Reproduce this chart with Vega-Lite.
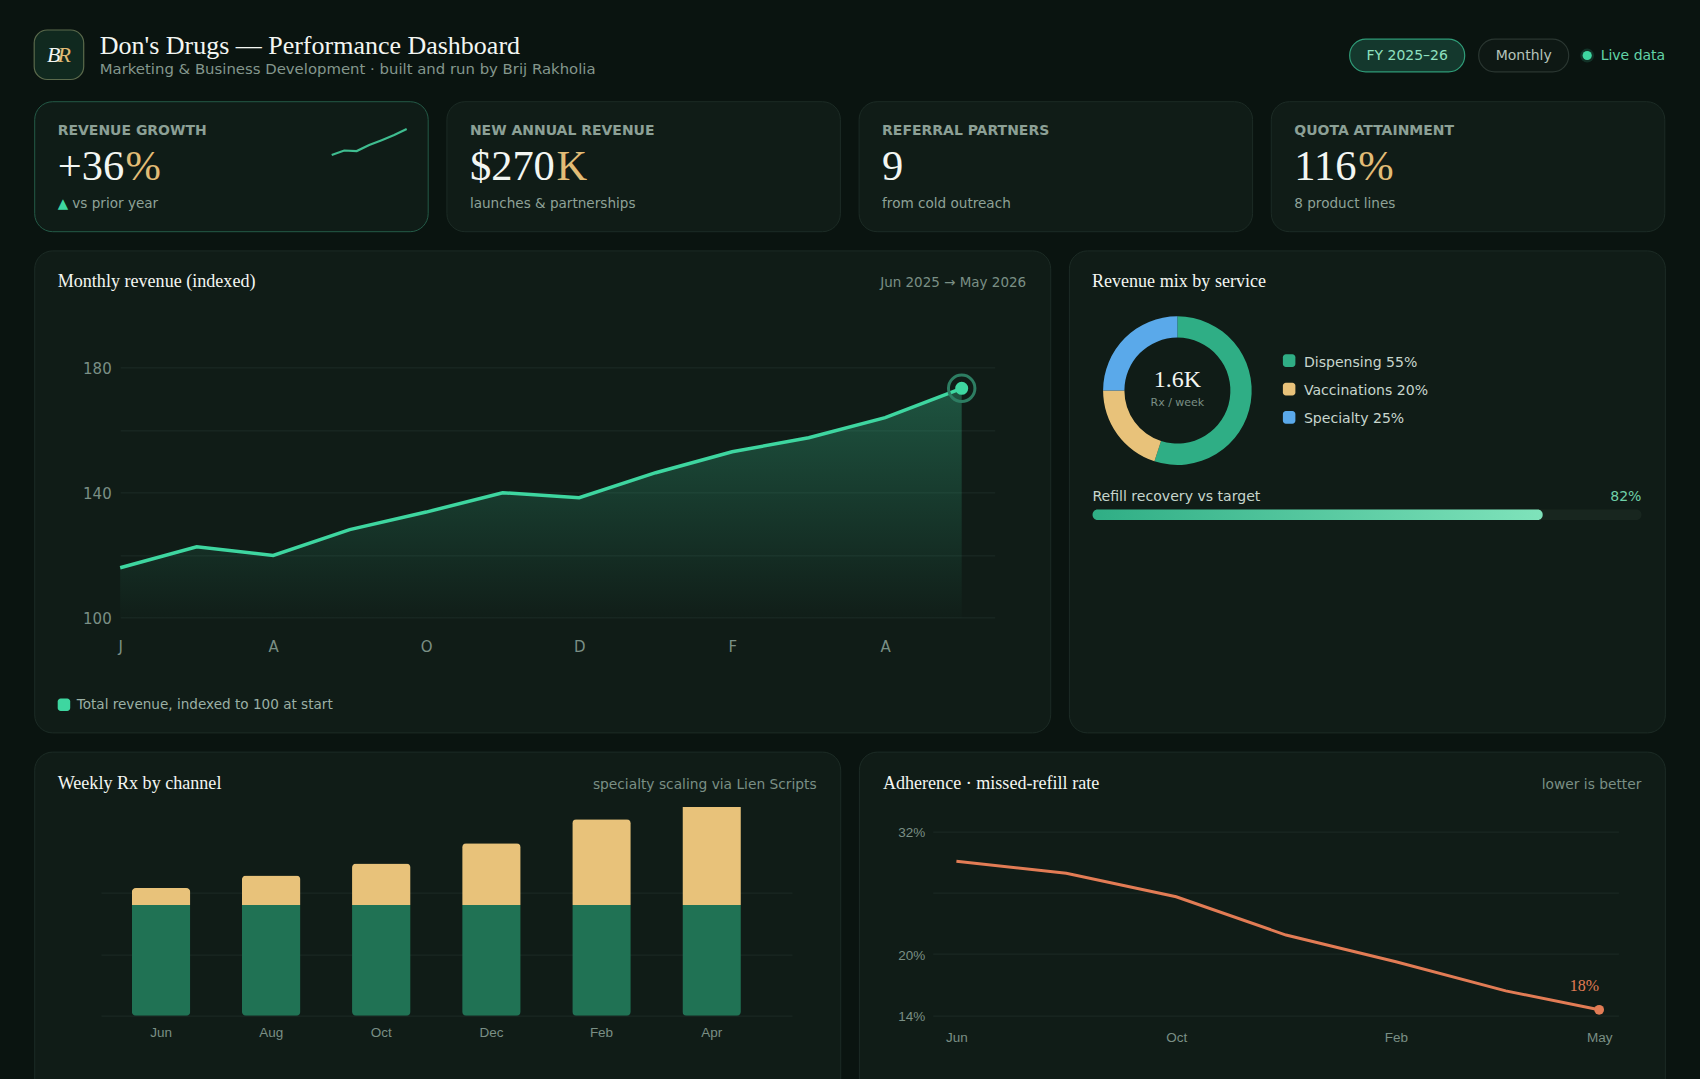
{
  "$schema": "https://vega.github.io/schema/vega-lite/v6.json",
  "description": "Don's Drugs performance dashboard",
  "background": "#0a1410",
  "padding": {"left": 33.2, "top": 29, "right": 34, "bottom": 0},
  "config": {
    "view": {"fill": "#101c17", "stroke": "#1c2b25", "strokeWidth": 1, "cornerRadius": 18},
    "scale": {"pointPadding": 0, "bandPaddingInner": 0, "bandPaddingOuter": 0},
    "axis": {"domain": false, "ticks": false, "grid": false, "title": null, "labelBound": false, "labelFlush": false, "labelOverlap": false, "labelAngle": 0, "gridColor": "#1d2b26", "gridWidth": 1, "labelColor": "#7a8f85"},
    "text": {"baseline": "middle", "align": "left"}
  },
  "spacing": 17.2,
  "resolve": {"scale": {"color": "independent"}},
  "vconcat": [
    {
      "width": 1630,
      "height": 53,
      "view": {"fill": null, "stroke": null},
      "resolve": {"scale": {"x": "independent", "y": "independent"}},
      "layer": [
        {
          "data": {"values": [{"item": "logo"}]},
          "mark": {"type": "rect", "fill": "#10291f", "stroke": "#5b6a4c", "strokeWidth": 1.2, "cornerRadius": 13},
          "encoding": {
            "x": {"field": "item", "type": "nominal", "axis": null, "scale": {"type": "band", "domain": ["logo"], "range": [0, 49.5]}},
            "y": {"field": "item", "type": "nominal", "axis": null, "scale": {"type": "band", "domain": ["logo"], "range": [0, 49.5]}}
          }
        },
        {
          "data": {"values": [{"letter": "B"}]},
          "mark": {"type": "text", "font": "Liberation Serif", "fontStyle": "italic", "fontSize": 22, "align": "center", "color": "#f3f6f2"},
          "encoding": {
            "x": {"field": "letter", "type": "nominal", "axis": null, "scale": {"type": "point", "domain": ["B", "R"], "range": [19.5, 30]}},
            "y": {"field": "letter", "type": "nominal", "axis": null, "scale": {"type": "point", "domain": ["B"], "range": [25, 25]}},
            "text": {"field": "letter"}
          }
        },
        {
          "data": {"values": [{"letter": "R"}]},
          "mark": {"type": "text", "font": "Liberation Serif", "fontStyle": "italic", "fontSize": 22, "align": "center", "color": "#e2bc76"},
          "encoding": {
            "x": {"field": "letter", "type": "nominal", "axis": null, "scale": {"type": "point", "domain": ["B", "R"], "range": [19.5, 30]}},
            "y": {"field": "letter", "type": "nominal", "axis": null, "scale": {"type": "point", "domain": ["R"], "range": [25, 25]}},
            "text": {"field": "letter"}
          }
        },
        {
          "data": {"values": [{"slot": "title", "text": "Don's Drugs — Performance Dashboard"}]},
          "mark": {"type": "text", "font": "Liberation Serif", "fontSize": 26, "color": "#f3f6f2"},
          "encoding": {
            "x": {"field": "slot", "type": "nominal", "axis": null, "scale": {"type": "point", "domain": ["title"], "range": [65.5, 65.5]}},
            "y": {"field": "slot", "type": "nominal", "axis": null, "scale": {"type": "point", "domain": ["title"], "range": [15.5, 15.5]}},
            "text": {"field": "text"}
          }
        },
        {
          "data": {"values": [{"slot": "subtitle", "text": "Marketing & Business Development · built and run by Brij Rakholia"}]},
          "mark": {"type": "text", "font": "DejaVu Sans", "fontSize": 14.9, "color": "#84978d"},
          "encoding": {
            "x": {"field": "slot", "type": "nominal", "axis": null, "scale": {"type": "point", "domain": ["subtitle"], "range": [65.5, 65.5]}},
            "y": {"field": "slot", "type": "nominal", "axis": null, "scale": {"type": "point", "domain": ["subtitle"], "range": [39.5, 39.5]}},
            "text": {"field": "text"}
          }
        },
        {
          "data": {"values": [{"pill": "FY 2025–26"}]},
          "mark": {"type": "rect", "fill": "#14382d", "stroke": "#2f9c78", "strokeWidth": 1.2, "cornerRadius": 16},
          "encoding": {
            "x": {"field": "pill", "type": "nominal", "axis": null, "scale": {"type": "band", "domain": ["FY 2025–26"], "range": [1315.5, 1430.5]}},
            "y": {"field": "pill", "type": "nominal", "axis": null, "scale": {"type": "band", "domain": ["FY 2025–26"], "range": [9.2, 41.8]}}
          }
        },
        {
          "data": {"values": [{"pill": "FY 2025–26"}]},
          "mark": {"type": "text", "font": "DejaVu Sans", "fontSize": 14, "align": "center", "color": "#8fe0c0"},
          "encoding": {
            "x": {"field": "pill", "type": "nominal", "axis": null, "scale": {"type": "band", "domain": ["FY 2025–26"], "range": [1315.5, 1430.5]}},
            "y": {"field": "pill", "type": "nominal", "axis": null, "scale": {"type": "band", "domain": ["FY 2025–26"], "range": [9.2, 41.8]}},
            "text": {"field": "pill"}
          }
        },
        {
          "data": {"values": [{"pill": "Monthly"}]},
          "mark": {"type": "rect", "fill": "#0e1814", "stroke": "#2a3631", "strokeWidth": 1.2, "cornerRadius": 16},
          "encoding": {
            "x": {"field": "pill", "type": "nominal", "axis": null, "scale": {"type": "band", "domain": ["Monthly"], "range": [1444.5, 1534.5]}},
            "y": {"field": "pill", "type": "nominal", "axis": null, "scale": {"type": "band", "domain": ["Monthly"], "range": [9.2, 41.8]}}
          }
        },
        {
          "data": {"values": [{"pill": "Monthly"}]},
          "mark": {"type": "text", "font": "DejaVu Sans", "fontSize": 14, "align": "center", "color": "#b5c4bb"},
          "encoding": {
            "x": {"field": "pill", "type": "nominal", "axis": null, "scale": {"type": "band", "domain": ["Monthly"], "range": [1444.5, 1534.5]}},
            "y": {"field": "pill", "type": "nominal", "axis": null, "scale": {"type": "band", "domain": ["Monthly"], "range": [9.2, 41.8]}},
            "text": {"field": "pill"}
          }
        },
        {
          "data": {"values": [{"slot": "status"}]},
          "mark": {"type": "circle", "color": "#3ed6a0", "size": 190, "opacity": 0.16},
          "encoding": {
            "x": {"field": "slot", "type": "nominal", "axis": null, "scale": {"type": "point", "domain": ["status"], "range": [1553, 1553]}},
            "y": {"field": "slot", "type": "nominal", "axis": null, "scale": {"type": "point", "domain": ["status"], "range": [25.5, 25.5]}}
          }
        },
        {
          "data": {"values": [{"slot": "status"}]},
          "mark": {"type": "circle", "color": "#3ed6a0", "size": 85, "opacity": 1},
          "encoding": {
            "x": {"field": "slot", "type": "nominal", "axis": null, "scale": {"type": "point", "domain": ["status"], "range": [1553, 1553]}},
            "y": {"field": "slot", "type": "nominal", "axis": null, "scale": {"type": "point", "domain": ["status"], "range": [25.5, 25.5]}}
          }
        },
        {
          "data": {"values": [{"slot": "status", "text": "Live data"}]},
          "mark": {"type": "text", "font": "DejaVu Sans", "fontSize": 14, "align": "right", "color": "#62d3a7"},
          "encoding": {
            "x": {"field": "slot", "type": "nominal", "axis": null, "scale": {"type": "point", "domain": ["status"], "range": [1631, 1631]}},
            "y": {"field": "slot", "type": "nominal", "axis": null, "scale": {"type": "point", "domain": ["status"], "range": [25.5, 25.5]}},
            "text": {"field": "text"}
          }
        }
      ]
    },
    {
      "spacing": 17.2,
      "hconcat": [
        {
          "width": 393.5,
          "height": 130,
          "view": {"stroke": "#245a47", "fill": "#0f1c17"},
          "resolve": {"scale": {"x": "independent", "y": "independent"}},
          "layer": [
            {
              "data": {"values": [{"part": "label", "text": "REVENUE GROWTH"}]},
              "mark": {"type": "text", "font": "DejaVu Sans", "fontWeight": "bold", "fontSize": 14, "color": "#8ca096"},
              "encoding": {
                "x": {"field": "part", "type": "nominal", "axis": null, "scale": {"type": "point", "domain": ["label"], "range": [23.5, 23.5]}},
                "y": {"field": "part", "type": "nominal", "axis": null, "scale": {"type": "point", "domain": ["label", "value", "sub"], "range": [30, 102.5]}},
                "text": {"field": "text"}
              }
            },
            {
              "data": {"values": [{"part": "value", "col": "main", "text": "+36"}]},
              "mark": {"type": "text", "font": "Liberation Serif", "fontSize": 42.5, "color": "#f3f6f2"},
              "encoding": {
                "x": {"field": "col", "type": "nominal", "axis": null, "scale": {"type": "point", "domain": ["main", "unit"], "range": [23.5, 91.2]}},
                "y": {"field": "part", "type": "nominal", "axis": null, "scale": {"type": "point", "domain": ["label", "value", "sub"], "range": [30, 102.5]}},
                "text": {"field": "text"}
              }
            },
            {
              "data": {"values": [{"part": "value", "col": "unit", "text": "%"}]},
              "mark": {"type": "text", "font": "Liberation Serif", "fontSize": 42.5, "color": "#e2bc76"},
              "encoding": {
                "x": {"field": "col", "type": "nominal", "axis": null, "scale": {"type": "point", "domain": ["main", "unit"], "range": [23.5, 91.2]}},
                "y": {"field": "part", "type": "nominal", "axis": null, "scale": {"type": "point", "domain": ["label", "value", "sub"], "range": [30, 102.5]}},
                "text": {"field": "text"}
              }
            },
            {
              "data": {"values": [{"part": "sub", "col": "mark", "text": "▲"}]},
              "mark": {"type": "text", "font": "DejaVu Sans", "fontSize": 13.6, "color": "#3ed6a0"},
              "encoding": {
                "x": {"field": "col", "type": "nominal", "axis": null, "scale": {"type": "point", "domain": ["mark", "note"], "range": [23.5, 38.1]}},
                "y": {"field": "part", "type": "nominal", "axis": null, "scale": {"type": "point", "domain": ["label", "value", "sub"], "range": [30, 102.5]}},
                "text": {"field": "text"}
              }
            },
            {
              "data": {"values": [{"part": "sub", "col": "note", "text": "vs prior year"}]},
              "mark": {"type": "text", "font": "DejaVu Sans", "fontSize": 13.6, "color": "#8ea298"},
              "encoding": {
                "x": {"field": "col", "type": "nominal", "axis": null, "scale": {"type": "point", "domain": ["mark", "note"], "range": [23.5, 38.1]}},
                "y": {"field": "part", "type": "nominal", "axis": null, "scale": {"type": "point", "domain": ["label", "value", "sub"], "range": [30, 102.5]}},
                "text": {"field": "text"}
              }
            },
            {
              "data": {"values": [
                {"step": 1, "growth": 16.75},
                {"step": 2, "growth": 28},
                {"step": 3, "growth": 26.5},
                {"step": 4, "growth": 41.75},
                {"step": 5, "growth": 53.75},
                {"step": 6, "growth": 66.5},
                {"step": 7, "growth": 81.75}
              ]},
              "mark": {"type": "line", "color": "#3fbd90", "strokeWidth": 2.2},
              "encoding": {
                "x": {"field": "step", "type": "quantitative", "axis": null, "scale": {"domain": [1, 7], "range": [297.5, 372.5]}},
                "y": {"field": "growth", "type": "quantitative", "axis": null, "scale": {"domain": [0, 100], "range": [60.5, 20.5]}}
              }
            }
          ]
        },
        {
          "width": 393.5,
          "height": 130,
          "data": {"values": [
            {"part": "label", "col": "main", "text": "NEW ANNUAL REVENUE"},
            {"part": "value", "col": "main", "text": "$270"},
            {"part": "value", "col": "unit", "text": "K"},
            {"part": "sub", "col": "main", "text": "launches & partnerships"}
          ]},
          "encoding": {
            "x": {"field": "col", "type": "nominal", "axis": null, "scale": {"type": "point", "domain": ["main", "unit"], "range": [23.5, 110.2]}},
            "y": {"field": "part", "type": "nominal", "axis": null, "scale": {"type": "point", "domain": ["label", "value", "sub"], "range": [30, 102.5]}},
            "text": {"field": "text"}
          },
          "layer": [
            {"transform": [{"filter": "datum.part == 'label'"}], "mark": {"type": "text", "font": "DejaVu Sans", "fontWeight": "bold", "fontSize": 14, "color": "#8ca096"}},
            {"transform": [{"filter": "datum.part == 'value' && datum.col == 'main'"}], "mark": {"type": "text", "font": "Liberation Serif", "fontSize": 42.5, "color": "#f3f6f2"}},
            {"transform": [{"filter": "datum.col == 'unit'"}], "mark": {"type": "text", "font": "Liberation Serif", "fontSize": 42.5, "color": "#e2bc76"}},
            {"transform": [{"filter": "datum.part == 'sub'"}], "mark": {"type": "text", "font": "DejaVu Sans", "fontSize": 13.6, "color": "#8ea298"}}
          ]
        },
        {
          "width": 393.5,
          "height": 130,
          "data": {"values": [
            {"part": "label", "col": "main", "text": "REFERRAL PARTNERS"},
            {"part": "value", "col": "main", "text": "9"},
            {"part": "sub", "col": "main", "text": "from cold outreach"}
          ]},
          "encoding": {
            "x": {"field": "col", "type": "nominal", "axis": null, "scale": {"type": "point", "domain": ["main"], "range": [23.5, 23.5]}},
            "y": {"field": "part", "type": "nominal", "axis": null, "scale": {"type": "point", "domain": ["label", "value", "sub"], "range": [30, 102.5]}},
            "text": {"field": "text"}
          },
          "layer": [
            {"transform": [{"filter": "datum.part == 'label'"}], "mark": {"type": "text", "font": "DejaVu Sans", "fontWeight": "bold", "fontSize": 14, "color": "#8ca096"}},
            {"transform": [{"filter": "datum.part == 'value'"}], "mark": {"type": "text", "font": "Liberation Serif", "fontSize": 42.5, "color": "#f3f6f2"}},
            {"transform": [{"filter": "datum.part == 'sub'"}], "mark": {"type": "text", "font": "DejaVu Sans", "fontSize": 13.6, "color": "#8ea298"}}
          ]
        },
        {
          "width": 393.5,
          "height": 130,
          "data": {"values": [
            {"part": "label", "col": "main", "text": "QUOTA ATTAINMENT"},
            {"part": "value", "col": "main", "text": "116"},
            {"part": "value", "col": "unit", "text": "%"},
            {"part": "sub", "col": "main", "text": "8 product lines"}
          ]},
          "encoding": {
            "x": {"field": "col", "type": "nominal", "axis": null, "scale": {"type": "point", "domain": ["main", "unit"], "range": [23.5, 87.5]}},
            "y": {"field": "part", "type": "nominal", "axis": null, "scale": {"type": "point", "domain": ["label", "value", "sub"], "range": [30, 102.5]}},
            "text": {"field": "text"}
          },
          "layer": [
            {"transform": [{"filter": "datum.part == 'label'"}], "mark": {"type": "text", "font": "DejaVu Sans", "fontWeight": "bold", "fontSize": 14, "color": "#8ca096"}},
            {"transform": [{"filter": "datum.part == 'value' && datum.col == 'main'"}], "mark": {"type": "text", "font": "Liberation Serif", "fontSize": 42.5, "color": "#f3f6f2"}},
            {"transform": [{"filter": "datum.col == 'unit'"}], "mark": {"type": "text", "font": "Liberation Serif", "fontSize": 42.5, "color": "#e2bc76"}},
            {"transform": [{"filter": "datum.part == 'sub'"}], "mark": {"type": "text", "font": "DejaVu Sans", "fontSize": 13.6, "color": "#8ea298"}}
          ]
        }
      ]
    },
    {
      "spacing": 16.7,
      "resolve": {"scale": {"color": "independent"}},
      "hconcat": [
        {
          "width": 1016,
          "height": 482,
          "resolve": {"scale": {"x": "independent", "y": "independent"}},
          "data": {"values": [
            {"month": "Jun", "index": 116},
            {"month": "Jul", "index": 122.7},
            {"month": "Aug", "index": 119.9},
            {"month": "Sep", "index": 128.2},
            {"month": "Oct", "index": 133.8},
            {"month": "Nov", "index": 140},
            {"month": "Dec", "index": 138.4},
            {"month": "Jan", "index": 146.4},
            {"month": "Feb", "index": 153.1},
            {"month": "Mar", "index": 157.6},
            {"month": "Apr", "index": 164},
            {"month": "May", "index": 173.4}
          ]},
          "encoding": {
            "x": {"field": "month", "type": "nominal", "axis": null, "scale": {"type": "point", "domain": ["Jun", "Jul", "Aug", "Sep", "Oct", "Nov", "Dec", "Jan", "Feb", "Mar", "Apr", "May"], "range": [86, 960.5], "padding": 0.2157, "align": 0}},
            "y": {"field": "index", "type": "quantitative", "axis": null, "scale": {"domain": [100, 180], "range": [367.3, 117.3]}}
          },
          "layer": [
            {
              "mark": {"type": "area", "color": {"gradient": "linear", "x1": 0, "y1": 0, "x2": 0, "y2": 1, "stops": [{"offset": 0, "color": "rgba(62,214,160,0.30)"}, {"offset": 1, "color": "rgba(62,214,160,0.01)"}]}},
              "encoding": {
                "x": {"field": "month", "type": "nominal", "title": null, "sort": null, "axis": {"values": ["Jun", "Aug", "Oct", "Dec", "Feb", "Apr"], "labelExpr": "substring(datum.value, 0, 1)", "labelFont": "DejaVu Sans", "labelFontSize": 15, "labelBaseline": "middle", "labelPadding": -86}, "scale": {"type": "point", "domain": ["Jun", "Jul", "Aug", "Sep", "Oct", "Nov", "Dec", "Jan", "Feb", "Mar", "Apr", "May"], "range": [86, 960.5], "padding": 0.2157, "align": 0}},
                "y": {"field": "index", "type": "quantitative", "title": null, "axis": {"values": [100, 120, 140, 160, 180], "grid": true, "labelExpr": "datum.value == 120 || datum.value == 160 ? '' : datum.label", "labelFont": "DejaVu Sans", "labelFontSize": 15, "labelPadding": -77, "labelOffset": 1}, "scale": {"domain": [100, 180], "range": [367.3, 117.3]}},
                "y2": {"datum": 100}
              }
            },
            {"mark": {"type": "line", "color": "#3ed6a0", "strokeWidth": 3.5}},
            {
              "transform": [{"filter": "datum.month == 'May'"}],
              "mark": {"type": "point", "filled": false, "stroke": "#2d7d62", "strokeWidth": 3, "size": 700, "opacity": 1}
            },
            {
              "transform": [{"filter": "datum.month == 'May'"}],
              "mark": {"type": "circle", "color": "#3ed6a0", "size": 170, "opacity": 1}
            },
            {
              "data": {"values": [{"slot": "title", "text": "Monthly revenue (indexed)"}]},
              "mark": {"type": "text", "font": "Liberation Serif", "fontSize": 18.1, "color": "#f3f6f2"},
              "encoding": {
                "x": {"field": "slot", "type": "nominal", "axis": null, "scale": {"type": "point", "domain": ["title"], "range": [23.5, 23.5]}},
                "y": {"field": "slot", "type": "nominal", "axis": null, "scale": {"type": "point", "domain": ["title"], "range": [31.5, 31.5]}},
                "text": {"field": "text"}
              }
            },
            {
              "data": {"values": [{"slot": "note", "text": "Jun 2025 → May 2026"}]},
              "mark": {"type": "text", "font": "DejaVu Sans", "fontSize": 13.5, "align": "right", "color": "#7a8f85"},
              "encoding": {
                "x": {"field": "slot", "type": "nominal", "axis": null, "scale": {"type": "point", "domain": ["note"], "range": [992, 992]}},
                "y": {"field": "slot", "type": "nominal", "axis": null, "scale": {"type": "point", "domain": ["note"], "range": [32.5, 32.5]}},
                "text": {"field": "text"}
              }
            },
            {
              "data": {"values": [{"slot": "legend"}]},
              "mark": {"type": "rect", "fill": "#3ed6a0", "cornerRadius": 3},
              "encoding": {
                "x": {"field": "slot", "type": "nominal", "axis": null, "scale": {"type": "band", "domain": ["legend"], "range": [23.5, 36]}},
                "y": {"field": "slot", "type": "nominal", "axis": null, "scale": {"type": "band", "domain": ["legend"], "range": [448, 460.5]}}
              }
            },
            {
              "data": {"values": [{"slot": "legend", "text": "Total revenue, indexed to 100 at start"}]},
              "mark": {"type": "text", "font": "DejaVu Sans", "fontSize": 13.6, "color": "#9bb0a5"},
              "encoding": {
                "x": {"field": "slot", "type": "nominal", "axis": null, "scale": {"type": "point", "domain": ["legend"], "range": [42.5, 42.5]}},
                "y": {"field": "slot", "type": "nominal", "axis": null, "scale": {"type": "point", "domain": ["legend"], "range": [455, 455]}},
                "text": {"field": "text"}
              }
            }
          ]
        },
        {
          "width": 596,
          "height": 482,
          "resolve": {"scale": {"x": "independent", "y": "independent"}},
          "layer": [
            {
              "data": {"values": [{"slot": "title", "text": "Revenue mix by service"}]},
              "mark": {"type": "text", "font": "Liberation Serif", "fontSize": 18.1, "color": "#f3f6f2"},
              "encoding": {
                "x": {"field": "slot", "type": "nominal", "axis": null, "scale": {"type": "point", "domain": ["title"], "range": [23, 23]}},
                "y": {"field": "slot", "type": "nominal", "axis": null, "scale": {"type": "point", "domain": ["title"], "range": [31.5, 31.5]}},
                "text": {"field": "text"}
              }
            },
            {
              "data": {"values": [
                {"chart": "mix", "service": "Dispensing", "share": 55, "rank": 1},
                {"chart": "mix", "service": "Vaccinations", "share": 20, "rank": 2},
                {"chart": "mix", "service": "Specialty", "share": 25, "rank": 3}
              ]},
              "mark": {"type": "arc", "outerRadius": 74.3, "innerRadius": 53},
              "encoding": {
                "x": {"field": "chart", "type": "nominal", "axis": null, "scale": {"type": "point", "domain": ["mix"], "range": [108.5, 108.5]}},
                "y": {"field": "chart", "type": "nominal", "axis": null, "scale": {"type": "point", "domain": ["mix"], "range": [140.2, 140.2]}},
                "theta": {"field": "share", "type": "quantitative"},
                "order": {"field": "rank"},
                "color": {"field": "service", "type": "nominal", "legend": null, "scale": {"domain": ["Dispensing", "Vaccinations", "Specialty"], "range": ["#2fae85", "#e8c27a", "#5aa9ea"]}}
              }
            },
            {
              "data": {"values": [{"slot": "value", "text": "1.6K"}]},
              "mark": {"type": "text", "font": "Liberation Serif", "fontSize": 24, "align": "center", "color": "#f3f6f2"},
              "encoding": {
                "x": {"field": "slot", "type": "nominal", "axis": null, "scale": {"type": "point", "domain": ["value"], "range": [108.5, 108.5]}},
                "y": {"field": "slot", "type": "nominal", "axis": null, "scale": {"type": "point", "domain": ["value"], "range": [129.5, 129.5]}},
                "text": {"field": "text"}
              }
            },
            {
              "data": {"values": [{"slot": "caption", "text": "Rx / week"}]},
              "mark": {"type": "text", "font": "DejaVu Sans", "fontSize": 11, "align": "center", "color": "#7a8f85"},
              "encoding": {
                "x": {"field": "slot", "type": "nominal", "axis": null, "scale": {"type": "point", "domain": ["caption"], "range": [108.5, 108.5]}},
                "y": {"field": "slot", "type": "nominal", "axis": null, "scale": {"type": "point", "domain": ["caption"], "range": [152.5, 152.5]}},
                "text": {"field": "text"}
              }
            },
            {
              "data": {"values": [
                {"slot": "swatch", "service": "Dispensing"},
                {"slot": "swatch", "service": "Vaccinations"},
                {"slot": "swatch", "service": "Specialty"}
              ]},
              "mark": {"type": "rect", "cornerRadius": 3},
              "encoding": {
                "x": {"field": "slot", "type": "nominal", "axis": null, "scale": {"type": "band", "domain": ["swatch"], "range": [214, 226.5]}},
                "y": {"field": "service", "type": "nominal", "axis": null, "scale": {"type": "band", "domain": ["Dispensing", "Vaccinations", "Specialty"], "range": [96.1, 181.2], "paddingInner": 0.552, "paddingOuter": 0.276}},
                "color": {"field": "service", "type": "nominal", "legend": null, "scale": {"domain": ["Dispensing", "Vaccinations", "Specialty"], "range": ["#2fae85", "#e8c27a", "#5aa9ea"]}}
              }
            },
            {
              "data": {"values": [
                {"slot": "entry", "service": "Dispensing", "label": "Dispensing 55%"},
                {"slot": "entry", "service": "Vaccinations", "label": "Vaccinations 20%"},
                {"slot": "entry", "service": "Specialty", "label": "Specialty 25%"}
              ]},
              "mark": {"type": "text", "font": "DejaVu Sans", "fontSize": 14.1, "color": "#c7d6cd"},
              "encoding": {
                "x": {"field": "slot", "type": "nominal", "axis": null, "scale": {"type": "point", "domain": ["entry"], "range": [235, 235]}},
                "y": {"field": "service", "type": "nominal", "axis": null, "scale": {"type": "band", "domain": ["Dispensing", "Vaccinations", "Specialty"], "range": [98, 183.1], "paddingInner": 0.552, "paddingOuter": 0.276}},
                "text": {"field": "label"}
              }
            },
            {
              "data": {"values": [{"slot": "label", "text": "Refill recovery vs target"}]},
              "mark": {"type": "text", "font": "DejaVu Sans", "fontSize": 14.1, "color": "#c7d6cd"},
              "encoding": {
                "x": {"field": "slot", "type": "nominal", "axis": null, "scale": {"type": "point", "domain": ["label"], "range": [23.5, 23.5]}},
                "y": {"field": "slot", "type": "nominal", "axis": null, "scale": {"type": "point", "domain": ["label"], "range": [246.5, 246.5]}},
                "text": {"field": "text"}
              }
            },
            {
              "data": {"values": [{"slot": "value", "text": "82%"}]},
              "mark": {"type": "text", "font": "DejaVu Sans", "fontSize": 14.1, "align": "right", "color": "#6fd0a8"},
              "encoding": {
                "x": {"field": "slot", "type": "nominal", "axis": null, "scale": {"type": "point", "domain": ["value"], "range": [572.6, 572.6]}},
                "y": {"field": "slot", "type": "nominal", "axis": null, "scale": {"type": "point", "domain": ["value"], "range": [246.5, 246.5]}},
                "text": {"field": "text"}
              }
            },
            {
              "data": {"values": [{"row": "refill", "share": 100}]},
              "mark": {"type": "bar", "color": "#18261f", "cornerRadius": 5},
              "encoding": {
                "x": {"field": "share", "type": "quantitative", "stack": null, "axis": null, "scale": {"domain": [0, 100], "range": [23.7, 572.6]}},
                "y": {"field": "row", "type": "nominal", "axis": null, "scale": {"type": "band", "domain": ["refill"], "range": [259, 269.7]}}
              }
            },
            {
              "data": {"values": [{"row": "refill", "share": 82}]},
              "mark": {"type": "bar", "cornerRadius": 5, "color": {"gradient": "linear", "x1": 0, "y1": 0, "x2": 1, "y2": 0, "stops": [{"offset": 0, "color": "#2fae85"}, {"offset": 1, "color": "#7fe3bb"}]}},
              "encoding": {
                "x": {"field": "share", "type": "quantitative", "stack": null, "axis": null, "scale": {"domain": [0, 100], "range": [23.7, 572.6]}},
                "y": {"field": "row", "type": "nominal", "axis": null, "scale": {"type": "band", "domain": ["refill"], "range": [259, 269.7]}}
              }
            }
          ]
        }
      ]
    },
    {
      "spacing": 16.7,
      "resolve": {"scale": {"color": "independent"}},
      "hconcat": [
        {
          "width": 806,
          "height": 345,
          "resolve": {"scale": {"x": "independent", "y": "independent"}},
          "layer": [
            {
              "data": {"values": [{"slot": "title", "text": "Weekly Rx by channel"}]},
              "mark": {"type": "text", "font": "Liberation Serif", "fontSize": 18.1, "color": "#f3f6f2"},
              "encoding": {
                "x": {"field": "slot", "type": "nominal", "axis": null, "scale": {"type": "point", "domain": ["title"], "range": [23.5, 23.5]}},
                "y": {"field": "slot", "type": "nominal", "axis": null, "scale": {"type": "point", "domain": ["title"], "range": [32, 32]}},
                "text": {"field": "text"}
              }
            },
            {
              "data": {"values": [{"slot": "note", "text": "specialty scaling via Lien Scripts"}]},
              "mark": {"type": "text", "font": "DejaVu Sans", "fontSize": 13.8, "align": "right", "color": "#7a8f85"},
              "encoding": {
                "x": {"field": "slot", "type": "nominal", "axis": null, "scale": {"type": "point", "domain": ["note"], "range": [782.5, 782.5]}},
                "y": {"field": "slot", "type": "nominal", "axis": null, "scale": {"type": "point", "domain": ["note"], "range": [33, 33]}},
                "text": {"field": "text"}
              }
            },
            {
              "data": {"values": [
                {"month": "Jun", "channel": "Retail", "scripts": 718, "rank": 1},
                {"month": "Jun", "channel": "Specialty", "scripts": 110, "rank": 2},
                {"month": "Aug", "channel": "Retail", "scripts": 718, "rank": 1},
                {"month": "Aug", "channel": "Specialty", "scripts": 192, "rank": 2},
                {"month": "Oct", "channel": "Retail", "scripts": 718, "rank": 1},
                {"month": "Oct", "channel": "Specialty", "scripts": 270, "rank": 2},
                {"month": "Dec", "channel": "Retail", "scripts": 718, "rank": 1},
                {"month": "Dec", "channel": "Specialty", "scripts": 400, "rank": 2},
                {"month": "Feb", "channel": "Retail", "scripts": 718, "rank": 1},
                {"month": "Feb", "channel": "Specialty", "scripts": 557, "rank": 2}
              ]},
              "mark": {"type": "bar", "cornerRadius": 4},
              "encoding": {
                "x": {"field": "month", "type": "nominal", "title": null, "axis": {"labelFont": "Liberation Sans", "labelFontSize": 13.5, "labelBaseline": "middle", "labelPadding": -64}, "scale": {"type": "band", "domain": ["Jun", "Aug", "Oct", "Dec", "Feb", "Apr"], "range": [66.8, 757.8], "paddingInner": 0.4687, "paddingOuter": 0.372, "align": 0.376}},
                "y": {"field": "scripts", "type": "quantitative", "title": null, "axis": {"values": [0, 400, 800], "grid": true, "labels": false}, "scale": {"domain": [0, 1353], "range": [264.2, 55.5], "clamp": true}},
                "order": {"field": "rank"},
                "color": {"field": "channel", "type": "nominal", "legend": null, "scale": {"domain": ["Retail", "Specialty"], "range": ["#207254", "#e8c27a"]}}
              }
            },
            {
              "data": {"values": [
                {"month": "Apr", "channel": "Retail", "scripts": 718, "rank": 1},
                {"month": "Apr", "channel": "Specialty", "scripts": 732, "rank": 2}
              ]},
              "mark": {"type": "bar", "cornerRadiusBottomLeft": 4, "cornerRadiusBottomRight": 4},
              "encoding": {
                "x": {"field": "month", "type": "nominal", "axis": null, "scale": {"type": "band", "domain": ["Jun", "Aug", "Oct", "Dec", "Feb", "Apr"], "range": [66.8, 757.8], "paddingInner": 0.4687, "paddingOuter": 0.372, "align": 0.376}},
                "y": {"field": "scripts", "type": "quantitative", "axis": null, "scale": {"domain": [0, 1353], "range": [264.2, 55.5], "clamp": true}},
                "order": {"field": "rank"},
                "color": {"field": "channel", "type": "nominal", "legend": null, "scale": {"domain": ["Retail", "Specialty"], "range": ["#207254", "#e8c27a"]}}
              }
            }
          ]
        },
        {
          "width": 806,
          "height": 345,
          "resolve": {"scale": {"x": "independent", "y": "independent"}},
          "data": {"values": [
            {"month": "Jun", "step": 0, "missed": 29.07},
            {"month": "Aug", "step": 2, "missed": 27.9},
            {"month": "Oct", "step": 4, "missed": 25.6},
            {"month": "Dec", "step": 6, "missed": 21.86},
            {"month": "Feb", "step": 8, "missed": 19.25},
            {"month": "Apr", "step": 10, "missed": 16.4},
            {"month": "May", "step": 11.7, "missed": 14.55, "label": "18%"}
          ]},
          "encoding": {
            "x": {"field": "step", "type": "quantitative", "axis": null, "scale": {"domain": [-0.43, 12.05], "range": [73.9, 759.5]}},
            "y": {"field": "missed", "type": "quantitative", "axis": null, "scale": {"domain": [14, 32], "range": [263.8, 79.8]}}
          },
          "layer": [
            {
              "mark": {"type": "line", "color": "#e27c55", "strokeWidth": 3},
              "encoding": {
                "x": {"field": "step", "type": "quantitative", "title": null, "axis": {"values": [0, 4, 8, 11.7], "labelExpr": "datum.value == 0 ? 'Jun' : datum.value == 4 ? 'Oct' : datum.value == 8 ? 'Feb' : 'May'", "labelFont": "Liberation Sans", "labelFontSize": 13.5, "labelBaseline": "middle", "labelPadding": -59}, "scale": {"domain": [-0.43, 12.05], "range": [73.9, 759.5]}},
                "y": {"field": "missed", "type": "quantitative", "title": null, "axis": {"values": [14, 20, 26, 32], "grid": true, "labelExpr": "datum.value == 26 ? '' : datum.value + '%'", "labelFont": "Liberation Sans", "labelFontSize": 13.5, "labelPadding": -65.8, "labelOffset": 1}, "scale": {"domain": [14, 32], "range": [263.8, 79.8]}}
              }
            },
            {
              "transform": [{"filter": "datum.month == 'May'"}],
              "mark": {"type": "circle", "color": "#e27c55", "size": 95, "opacity": 1}
            },
            {
              "transform": [{"filter": "datum.month == 'May'"}],
              "mark": {"type": "text", "font": "Liberation Serif", "fontSize": 16, "align": "right", "dy": -24, "color": "#e27c55"},
              "encoding": {"text": {"field": "label"}}
            },
            {
              "data": {"values": [{"slot": "title", "text": "Adherence · missed-refill rate"}]},
              "mark": {"type": "text", "font": "Liberation Serif", "fontSize": 18.1, "color": "#f3f6f2"},
              "encoding": {
                "x": {"field": "slot", "type": "nominal", "axis": null, "scale": {"type": "point", "domain": ["title"], "range": [24, 24]}},
                "y": {"field": "slot", "type": "nominal", "axis": null, "scale": {"type": "point", "domain": ["title"], "range": [32, 32]}},
                "text": {"field": "text"}
              }
            },
            {
              "data": {"values": [{"slot": "note", "text": "lower is better"}]},
              "mark": {"type": "text", "font": "DejaVu Sans", "fontSize": 13.8, "align": "right", "color": "#7a8f85"},
              "encoding": {
                "x": {"field": "slot", "type": "nominal", "axis": null, "scale": {"type": "point", "domain": ["note"], "range": [782.5, 782.5]}},
                "y": {"field": "slot", "type": "nominal", "axis": null, "scale": {"type": "point", "domain": ["note"], "range": [33, 33]}},
                "text": {"field": "text"}
              }
            }
          ]
        }
      ]
    }
  ]
}
